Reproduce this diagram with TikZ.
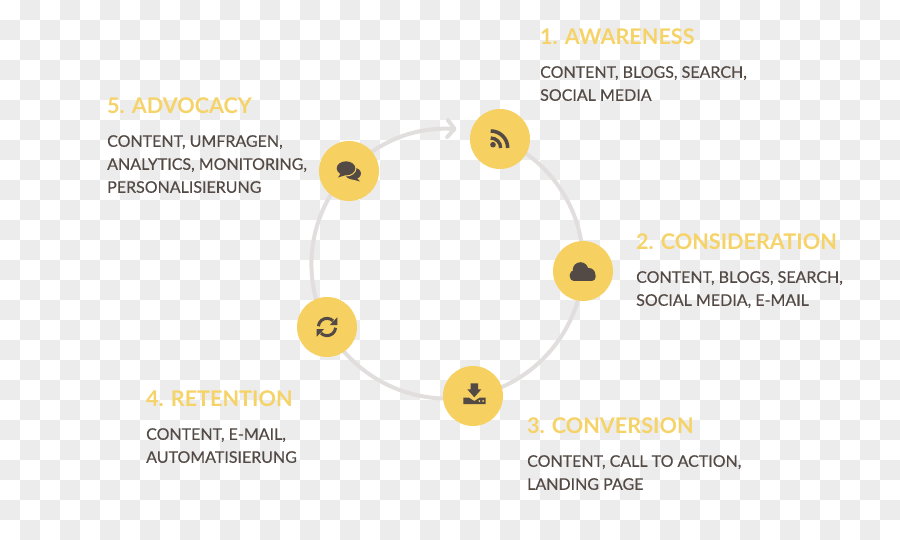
\documentclass[tikz,border=0pt]{standalone}
\usepackage{fontspec}
\setmainfont{Lato}
\newfontfamily\bodyfont{Lato}[FakeBold = .35]
\usepackage{xcolor}
\definecolor{gold}{RGB}{246, 208, 96}
\definecolor{headgold}{RGB}{246, 211, 105}
\definecolor{bark}{RGB}{84, 74, 69}
\definecolor{ringgray}{RGB}{226, 222, 222}
\definecolor{tilegray}{RGB}{236, 236, 236}
\usetikzlibrary{arrows.meta}
\pgfdeclarelayer{bg}
\pgfsetlayers{bg,main}
\tikzset{
  stage/.style = {circle, fill = gold, minimum size = 60pt, inner sep = 0pt},
  heading/.style = {anchor = base west, inner sep = 0pt, text = headgold, font = \fontsize{21.6}{23}\selectfont\bfseries},
  detail/.style = {anchor = north west, inner sep = 0pt, align = left, text = bark, font = \fontsize{16}{23}\bodyfont},
  ring/.style = {draw = ringgray, line width = 4pt, looseness = .94},
  glyph/.style = {fill = bark, draw = none}
}
\begin{document}
\begin{tikzpicture}[x = 1pt, y = -1pt]
\useasboundingbox (0,0) rectangle (900,540);
% The five stages
\node[stage] (awareness) at (500,139) {};
\node[stage] (consideration) at (583,271) {};
\node[stage] (conversion) at (473,396) {};
\node[stage] (retention) at (327,327) {};
\node[stage] (advocacy) at (349,171) {};
\coordinate (arrowend) at (456.5,129);
\begin{pgfonlayer}{bg}
% Checker tiles
\fill[white] (0,0) rectangle (900,540);
\foreach \i in {0,...,44} {
  \foreach \j in {0,...,26} {
    \pgfmathparse{int(mod(\i+\j,2))}
    \ifnum\pgfmathresult=1
      \fill[tilegray] (20*\i,20*\j) rectangle (20*\i+20,20*\j+20);
    \fi
  }
}
% Ring, behind the stages
\draw[ring] (awareness.center) to[bend left = 35] (consideration.center);
\draw[ring] (consideration.center) to[bend left = 38] (conversion.center);
\draw[ring] (conversion.center) to[bend left = 36.5] (retention.center);
\draw[ring] (retention.center) to[bend left = 36] (advocacy.center);
\draw[ring, -{Straight Barb[length = 7pt, width = 17pt, round]}] (advocacy.center) to[bend left = 24] (arrowend);
\end{pgfonlayer}
% Feed icon
\fill[glyph] (493,144.7) circle (2.8);
\draw[bark, line width = 3.6pt] (490.7,131) arc[start angle = -90, end angle = 0, radius = 17];
\draw[bark, line width = 3.4pt] (490.7,138) arc[start angle = -90, end angle = 0, radius = 10];
% Cloud icon
\fill[glyph] (580.5,270) circle (7.8) (588.8,274.5) circle (6.5) (575,275.5) circle (5.5);
\fill[glyph, rounded corners = 4pt] (570,272) rectangle (595.7,281);
% Download icon
\fill[glyph] (470.7,383.3) -- (478,383.3) -- (478,389.3) -- (481.3,389.3) -- (474.3,397.3) -- (467.3,389.3) -- (470.7,389.3) -- cycle;
\fill[glyph] (463.3,404) -- (463.3,397.7) -- (469,397.7) -- (474.3,401) -- (479.6,397.7) -- (485.7,397.7) -- (485.7,404) -- cycle;
\fill[gold] (479.3,401) circle (1) (483,401) circle (1);
% Refresh icon
\foreach \turn in {0,180} {
  \begin{scope}[shift = {(327,327)}, rotate = \turn]
    \draw[bark, line width = 3pt] (-8.6,-.8) arc[start angle = 185, end angle = 315, radius = 8.6];
    \fill[glyph] (10.3,-9.7) -- (10.3,-2) -- (2.8,-2) -- cycle;
  \end{scope}
}
% Speech bubbles icon
\fill[glyph] (353,173.5) ellipse (8 and 6);
\fill[glyph] (356,177) -- (360,181.5) -- (351,179) -- cycle;
\fill[gold] (346,168.3) ellipse (10.5 and 8.2);
\fill[glyph] (346,168.3) ellipse (9.3 and 7);
\fill[glyph] (341,173) -- (338,177.5) -- (346,175) -- cycle;
% Labels
\node[heading] (awarenesshead) at (540,44.5) {1. AWARENESS};
\node[detail] (awarenesstext) at (540,66) {CONTENT, BLOGS, SEARCH,\\SOCIAL MEDIA};
\node[heading] (considerationhead) at (636,249.5) {2. CONSIDERATION};
\node[detail] (considerationtext) at (636,271) {CONTENT, BLOGS, SEARCH,\\SOCIAL MEDIA, E-MAIL};
\node[heading] (conversionhead) at (527,433.5) {3. CONVERSION};
\node[detail] (conversiontext) at (527,455) {CONTENT, CALL TO ACTION,\\LANDING PAGE};
\node[heading] (retentionhead) at (146,406.5) {4. RETENTION};
\node[detail] (retentiontext) at (146,428) {CONTENT, E-MAIL,\\AUTOMATISIERUNG};
\node[heading] (advocacyhead) at (107,113.5) {5. ADVOCACY};
\node[detail] (advocacytext) at (107,135) {CONTENT, UMFRAGEN,\\ANALYTICS, MONITORING,\\PERSONALISIERUNG};
\end{tikzpicture}
\end{document}
